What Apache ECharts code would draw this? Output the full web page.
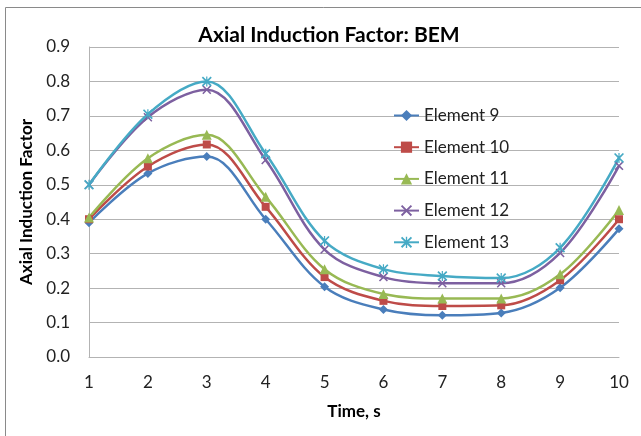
<!DOCTYPE html>
<html><head><meta charset="utf-8">
<script src="https://cdn.jsdelivr.net/npm/echarts@6/dist/echarts.min.js"></script>
<style>html,body{margin:0;padding:0;background:#fff}#c{width:641px;height:436px}</style>
</head><body><div id="c"></div>
<script>
var categories = ['1','2','3','4','5','6','7','8','9','10'];
var element9  = [0.39, 0.533, 0.582, 0.40, 0.204, 0.138, 0.121, 0.128, 0.201, 0.372];
var element10 = [0.40, 0.553, 0.617, 0.436, 0.232, 0.163, 0.148, 0.150, 0.223, 0.400];
var element11 = [0.405, 0.577, 0.645, 0.465, 0.255, 0.183, 0.170, 0.170, 0.240, 0.427];
var element12 = [0.50, 0.696, 0.776, 0.572, 0.312, 0.232, 0.214, 0.214, 0.302, 0.555];
var element13 = [0.50, 0.705, 0.800, 0.590, 0.337, 0.255, 0.235, 0.229, 0.317, 0.578];
var seriesNames = ['Element 9','Element 10','Element 11','Element 12','Element 13'];
var yTicks = ['0.0','0.1','0.2','0.3','0.4','0.5','0.6','0.7','0.8','0.9'];

var FONT = 'Lato';
var xSym = 'path://M0,1.2L1.2,0L5,3.8L8.8,0L10,1.2L6.2,5L10,8.8L8.8,10L5,6.2L1.2,10L0,8.8L3.8,5Z';
var starSym = 'path://M0,1.2L1.2,0L5,3.8L8.8,0L10,1.2L6.2,5L10,8.8L8.8,10L5,6.2L1.2,10L0,8.8L3.8,5Z M4.4,0L5.6,0L5.6,10L4.4,10Z';
var colors = ['#4A7EBB','#BE4B48','#98B954','#7D60A0','#46AAC5'];
var symbols = ['diamond','rect','triangle',xSym,starSym];
var sizes = [9,8,10,9,10];
var datas = [element9, element10, element11, element12, element13];

var series = datas.map(function(d,i){
  return {
    name: seriesNames[i], type:'line', data:d, smooth:0.35,
    symbol: symbols[i], symbolSize: sizes[i], showAllSymbol:true,
    lineStyle:{color:colors[i], width:2.5},
    itemStyle:{color:colors[i]}
  };
});

var chart = echarts.init(document.getElementById('c'), null, {renderer:'canvas'});
chart.setOption({
  animation:false,
  color: colors,
  title:{text:'Axial Induction Factor: BEM', left:324, textAlign:'center', top:20,
    textStyle:{fontFamily:FONT, fontWeight:'bold', fontSize:21, color:'#000'}},
  grid:{left:89, right:22, top:47, bottom:79, containLabel:false, outerBoundsMode:'none'},
  legend:{orient:'vertical', left:388, top:102, itemWidth:25, itemHeight:14, itemGap:14.7,
    textStyle:{fontFamily:FONT, fontSize:17, color:'#222'}, data:seriesNames},
  xAxis:{type:'category', data:categories, boundaryGap:false,
    name:'Time, s', nameLocation:'middle', nameGap:46,
    nameTextStyle:{fontFamily:FONT, fontWeight:'bold', fontSize:17, color:'#000'},
    axisLine:{show:true, lineStyle:{color:'#b3b3b3', width:1}},
    axisTick:{show:false},
    axisLabel:{fontFamily:FONT, fontSize:17, color:'#222', margin:17}},
  yAxis:{type:'value', min:0, max:0.9, interval:0.1,
    name:'Axial Induction Factor', nameLocation:'middle', nameGap:48,
    nameTextStyle:{fontFamily:FONT, fontWeight:'bold', fontSize:17, color:'#000'},
    axisLine:{show:true, lineStyle:{color:'#b3b3b3', width:1}},
    axisTick:{show:false},
    splitLine:{lineStyle:{color:'#b3b3b3', width:1}},
    axisLabel:{fontFamily:FONT, fontSize:17, color:'#222', margin:19,
      formatter:function(v){ return yTicks[Math.round(v*10)]; }}},
  graphic:[{type:'rect', shape:{x:5.5, y:7.5, width:700, height:500}, silent:true,
    style:{fill:'none', stroke:'#8a8a8a', lineWidth:1}}],
  series: series
});
</script></body></html>
